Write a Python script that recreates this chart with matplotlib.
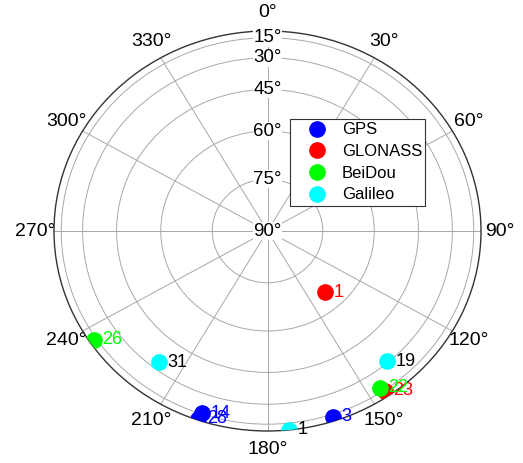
import numpy as np
import matplotlib.pyplot as plt

plt.rcParams['font.family'] = ['Liberation Sans', 'DejaVu Sans']

# satellite positions: azimuth (deg, clockwise from north), elevation (deg)
gps_prn = [3, 14, 28]
gps_az = [161.7, 198.6, 199.0]
gps_el = [11.7, 16.0, 6.7]

glo_prn = [1, 23]
glo_az = [138.6, 145.5]
glo_el = [66.0, 13.9]

bds_prn = [26, 22]
bds_az = [236.2, 146.1]
bds_el = [11.8, 19.0]

gal_prn = [31, 19, 1]
gal_az = [217.8, 139.3, 174.2]
gal_el = [34.0, 30.9, 2.0]

elev_ticks = [15, 30, 45, 60, 75, 90]
azim_ticks = list(range(0, 360, 30))

systems = [
    ('GPS', gps_prn, gps_az, gps_el, (0, 0, 1), (0, 0, 1)),
    ('GLONASS', glo_prn, glo_az, glo_el, (1, 0, 0), (1, 0, 0)),
    ('BeiDou', bds_prn, bds_az, bds_el, (0, 1, 0), (0, 1, 0)),
    ('Galileo', gal_prn, gal_az, gal_el, (0, 1, 1), 'black'),
]

fig = plt.figure(figsize=(5.23, 4.63), dpi=100)
ax = fig.add_axes([54 / 523, 32 / 463, 427 / 523, 400 / 463], projection='polar')
ax.set_aspect('auto')
ax.set_theta_zero_location('N')
ax.set_theta_direction(-1)
ax.set_rlim(0, 1)

# radius is cos(elevation), so the horizon is the outer ring
ax.set_rticks([np.cos(np.radians(e)) for e in elev_ticks[:-1]])
ax.set_yticklabels([])
ax.set_thetagrids(azim_ticks, [f'{a}°' for a in azim_ticks], fontsize=14)
ax.tick_params(axis='x', pad=3)
ax.grid(True, color='#a8a8a8', linewidth=0.7)
ax.spines['polar'].set_color('#333333')
ax.spines['polar'].set_linewidth(1.0)

for e in elev_ticks:
    ax.text(0, np.cos(np.radians(e)), f'{e}°', ha='center', va='center', fontsize=13.5,
            bbox=dict(facecolor='white', edgecolor='none', pad=0.3), zorder=3)

for name, prn, az, el, col, txtcol in systems:
    th = np.radians(az)
    r = np.cos(np.radians(el))
    ax.plot(th, r, 'o', color=col, markersize=11, linestyle='none', label=name, zorder=4)
    for p, t, rr in zip(prn, th, r):
        ax.annotate(str(p), (t, rr), xytext=(6, 0), textcoords='offset points',
                    ha='left', va='center', fontsize=13, color=txtcol, zorder=5)

leg = ax.legend(loc='upper left', bbox_to_anchor=(290 / 523, 1 - 119 / 463),
                bbox_transform=fig.transFigure, fontsize=12, fancybox=False,
                edgecolor='#333333', framealpha=1, borderpad=0.2, borderaxespad=0,
                handlelength=2.8, handletextpad=0.1, labelspacing=0.4, markerscale=1.0)
leg.get_frame().set_linewidth(0.8)

fig.savefig('out.png', dpi=100)
